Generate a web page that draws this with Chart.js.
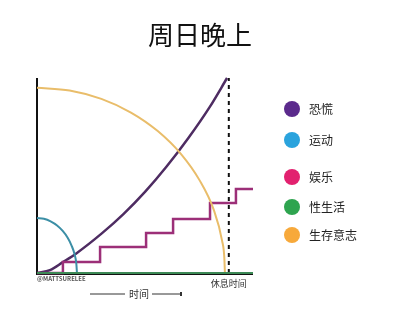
<!DOCTYPE html>
<html>
<head>
<meta charset="utf-8">
<script src="https://cdn.jsdelivr.net/npm/chart.js@4"></script>
<style>
  html, body { margin: 0; padding: 0; background: #fff; }
</style>
</head>
<body>
<canvas id="chart" width="400" height="320"></canvas>
<script>
// Series data (x = time, y = level, both 0..100)
const chartTitle = '周日晚上';
const legendLabels = ['恐慌', '运动', '娱乐', '性生活', '生存意志'];
const legendColors = ['#5b2a8c', '#2aa3dd', '#e2216f', '#2ea44f', '#f7a93b'];
const lineColors = ['#4e2c62', '#3c8fa6', '#9c2f78', '#3d8a56', '#e9bd6a'];

const panicX = [0, 6, 12, 18.5, 30, 40, 50, 60, 70, 80, 88];
const panicY = [0, 1.5, 5.6, 10.3, 20.3, 30.2, 41.6, 54.6, 69.1, 85.2, 100];

const exerciseX = [0, 3.2, 6.3, 9.3, 11.9, 14.2, 16.0, 17.4, 18.2, 18.5];
const exerciseY = [28.2, 27.8, 26.5, 24.4, 21.6, 18.1, 14.1, 9.6, 4.9, 0];

const funX = [0, 12, 29.2, 50.5, 63, 80.1, 92.1, 100];
const funY = [0, 5.6, 13.3, 20.5, 27.7, 35.9, 43.1, 43.1];

const sexX = [0, 100];
const sexY = [0, 0];

const willX = [0, 15.1, 29.8, 43.5, 55.9, 66.6, 75.3, 81.8, 85.7, 86.7, 87];
const willY = [95, 93.6, 89.3, 82.3, 72.8, 61.1, 47.5, 32.5, 16.5, 8.3, 0];

const breakTimeX = 88.8;

const font = "'Noto Sans CJK SC', 'Noto Sans', sans-serif";

function pts(xs, ys) {
    return xs.map((x, i) => ({ x: x, y: ys[i] }));
}

// Axes, title, legend and notes drawn on the canvas
const decorPlugin = {
    id: 'decor',
    beforeDatasetsDraw(chart) {
        const { ctx, chartArea: a } = chart;
        ctx.save();
        ctx.strokeStyle = '#111';
        ctx.lineWidth = 2;
        ctx.beginPath();
        ctx.moveTo(a.left, a.top);
        ctx.lineTo(a.left, a.bottom + 1);
        ctx.lineTo(a.right, a.bottom + 1);
        ctx.stroke();
        ctx.restore();
    },
    afterDraw(chart) {
        const { ctx, chartArea: a, scales } = chart;
        ctx.save();

        // title, centred on the whole canvas
        ctx.fillStyle = '#111';
        ctx.font = '26px ' + font;
        ctx.textAlign = 'center';
        ctx.textBaseline = 'middle';
        ctx.fillText(chartTitle, 200, 35);

        // legend
        const rowsY = [109, 140, 177, 207, 235];
        legendLabels.forEach((label, i) => {
            ctx.fillStyle = legendColors[i];
            ctx.beginPath();
            ctx.arc(292, rowsY[i], 8, 0, Math.PI * 2);
            ctx.fill();
            ctx.fillStyle = '#222';
            ctx.font = '12px ' + font;
            ctx.textAlign = 'left';
            ctx.textBaseline = 'middle';
            ctx.fillText(label, 309, rowsY[i]);
        });

        // notes under the axis
        ctx.fillStyle = '#555';
        ctx.font = 'bold 6px ' + font;
        ctx.textAlign = 'left';
        ctx.textBaseline = 'middle';
        ctx.fillText('@MATTSURELEE', a.left, a.bottom + 6);

        ctx.fillStyle = '#333';
        ctx.font = '9px ' + font;
        ctx.textAlign = 'center';
        ctx.fillText('休息时间', scales.x.getPixelForValue(breakTimeX), a.bottom + 11);

        ctx.font = '10px ' + font;
        ctx.fillText('时间', 139, 294);
        ctx.strokeStyle = '#333';
        ctx.lineWidth = 1;
        ctx.beginPath();
        ctx.moveTo(90, 294);
        ctx.lineTo(125, 294);
        ctx.moveTo(152, 294);
        ctx.lineTo(181, 294);
        ctx.stroke();
        ctx.fillStyle = '#333';
        ctx.fillRect(180, 292, 2, 4);

        ctx.restore();
    }
};

const ctx = document.getElementById('chart').getContext('2d');
new Chart(ctx, {
    type: 'line',
    data: {
        datasets: [
            {
                label: legendLabels[3],
                data: pts(sexX, sexY),
                borderColor: lineColors[3],
                borderWidth: 2
            },
            {
                label: legendLabels[4],
                data: pts(willX, willY),
                borderColor: lineColors[4],
                borderWidth: 2,
                cubicInterpolationMode: 'monotone'
            },
            {
                label: legendLabels[1],
                data: pts(exerciseX, exerciseY),
                borderColor: lineColors[1],
                borderWidth: 2,
                cubicInterpolationMode: 'monotone'
            },
            {
                label: legendLabels[2],
                data: pts(funX, funY),
                borderColor: lineColors[2],
                borderWidth: 2.5,
                stepped: true
            },
            {
                label: legendLabels[0],
                data: pts(panicX, panicY),
                borderColor: lineColors[0],
                borderWidth: 2.5,
                cubicInterpolationMode: 'monotone'
            },
            {
                label: 'break',
                data: [{ x: breakTimeX, y: 0 }, { x: breakTimeX, y: 100 }],
                borderColor: '#111',
                borderWidth: 2,
                borderDash: [4, 4]
            }
        ]
    },
    options: {
        responsive: false,
        animation: false,
        clip: false,
        elements: { point: { radius: 0 } },
        layout: { padding: { left: 37, right: 147, top: 78, bottom: 47 } },
        scales: {
            x: { type: 'linear', min: 0, max: 100, display: false },
            y: { min: 0, max: 100, display: false }
        },
        plugins: {
            legend: { display: false },
            tooltip: { enabled: false },
            title: { display: false }
        }
    },
    plugins: [decorPlugin]
});
</script>
</body>
</html>
